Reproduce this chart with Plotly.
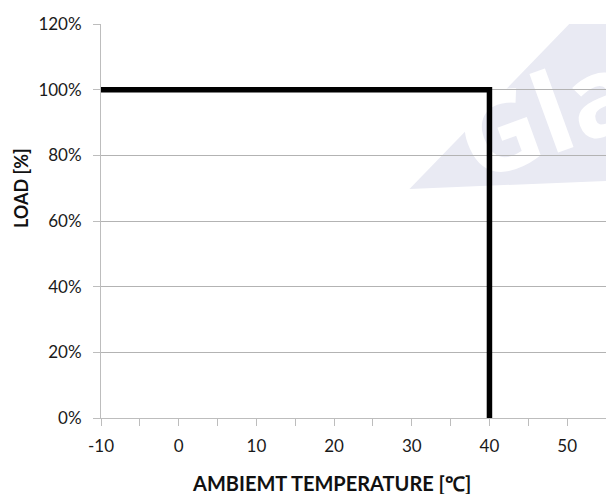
import plotly.graph_objects as go

temperature = [-10, 40, 40]
load = [100, 100, 0]
x_ticks = [-10, 0, 10, 20, 30, 40, 50]
y_ticks = [0, 20, 40, 60, 80, 100, 120]
y_tick_labels = ["0%", "20%", "40%", "60%", "80%", "100%", "120%"]

FONT = "Lato"
AXIS_COLOR = "#bdbdbd"
GRID_COLOR = "#b3b3b3"

fig = go.Figure()

# watermark (decorative background)
fig.add_shape(type="path", xref="x", yref="y",
              path="M 29.7 69.75 L 56 72.3 L 56 134 Z",
              fillcolor="#e9eaf3", line=dict(width=0), layer="below")
fig.add_shape(type="rect", xref="x", yref="y", x0=47.0, x1=48.0, y0=90.5, y1=91.5,
              line=dict(width=0), fillcolor="rgba(0,0,0,0)", layer="below",
              label=dict(text="<b>Gla</b>", textangle=-20, textposition="middle center",
                         font=dict(family="Open Sans", size=110, color="white")))

fig.add_trace(go.Scatter(x=temperature, y=load, mode="lines",
                         line=dict(color="black", width=5.5), cliponaxis=False,
                         hoverinfo="skip"))

fig.update_layout(
    width=606, height=494,
    margin=dict(l=101, r=0, t=24, b=76, autoexpand=False),
    paper_bgcolor="white", plot_bgcolor="rgba(0,0,0,0)",
    showlegend=False,
    font=dict(family=FONT, size=17, color="#1a1a1a"),
)
fig.update_xaxes(
    range=[-10, 55], tickvals=x_ticks, ticktext=[str(v) for v in x_ticks],
    showgrid=False, showline=True, linecolor=AXIS_COLOR, linewidth=1,
    ticks="outside", ticklen=7, tickcolor=AXIS_COLOR,
    minor=dict(dtick=5, tick0=-10, ticks="outside", ticklen=7, tickcolor=AXIS_COLOR, showgrid=False),
    zeroline=False, tickfont=dict(size=17), ticklabelstandoff=6, automargin=False,
)
fig.update_yaxes(
    range=[0, 120], tickvals=y_ticks, ticktext=y_tick_labels,
    showgrid=True, gridcolor=GRID_COLOR, gridwidth=1,
    showline=True, linecolor=AXIS_COLOR, linewidth=1,
    ticks="outside", ticklen=7, tickcolor=AXIS_COLOR,
    zeroline=False, tickfont=dict(size=17), ticklabelstandoff=8, automargin=False,
)

fig.add_annotation(xref="paper", yref="paper", x=0.457, y=-0.165, yanchor="middle",
                   text="<b>AMBIEMT TEMPERATURE [℃]</b>", showarrow=False,
                   font=dict(family=FONT, size=20, color="#111"))
fig.add_annotation(xref="paper", yref="paper", x=-0.158, xanchor="center", y=0.584, yanchor="middle",
                   text="<b>LOAD [%]</b>", showarrow=False, textangle=-90,
                   font=dict(family=FONT, size=18, color="#111"))

fig.write_html(
    "out.html",
    config={"displayModeBar": False, "staticPlot": True},
    post_script="document.body.style.margin='0';document.body.style.overflow='hidden';",
)
